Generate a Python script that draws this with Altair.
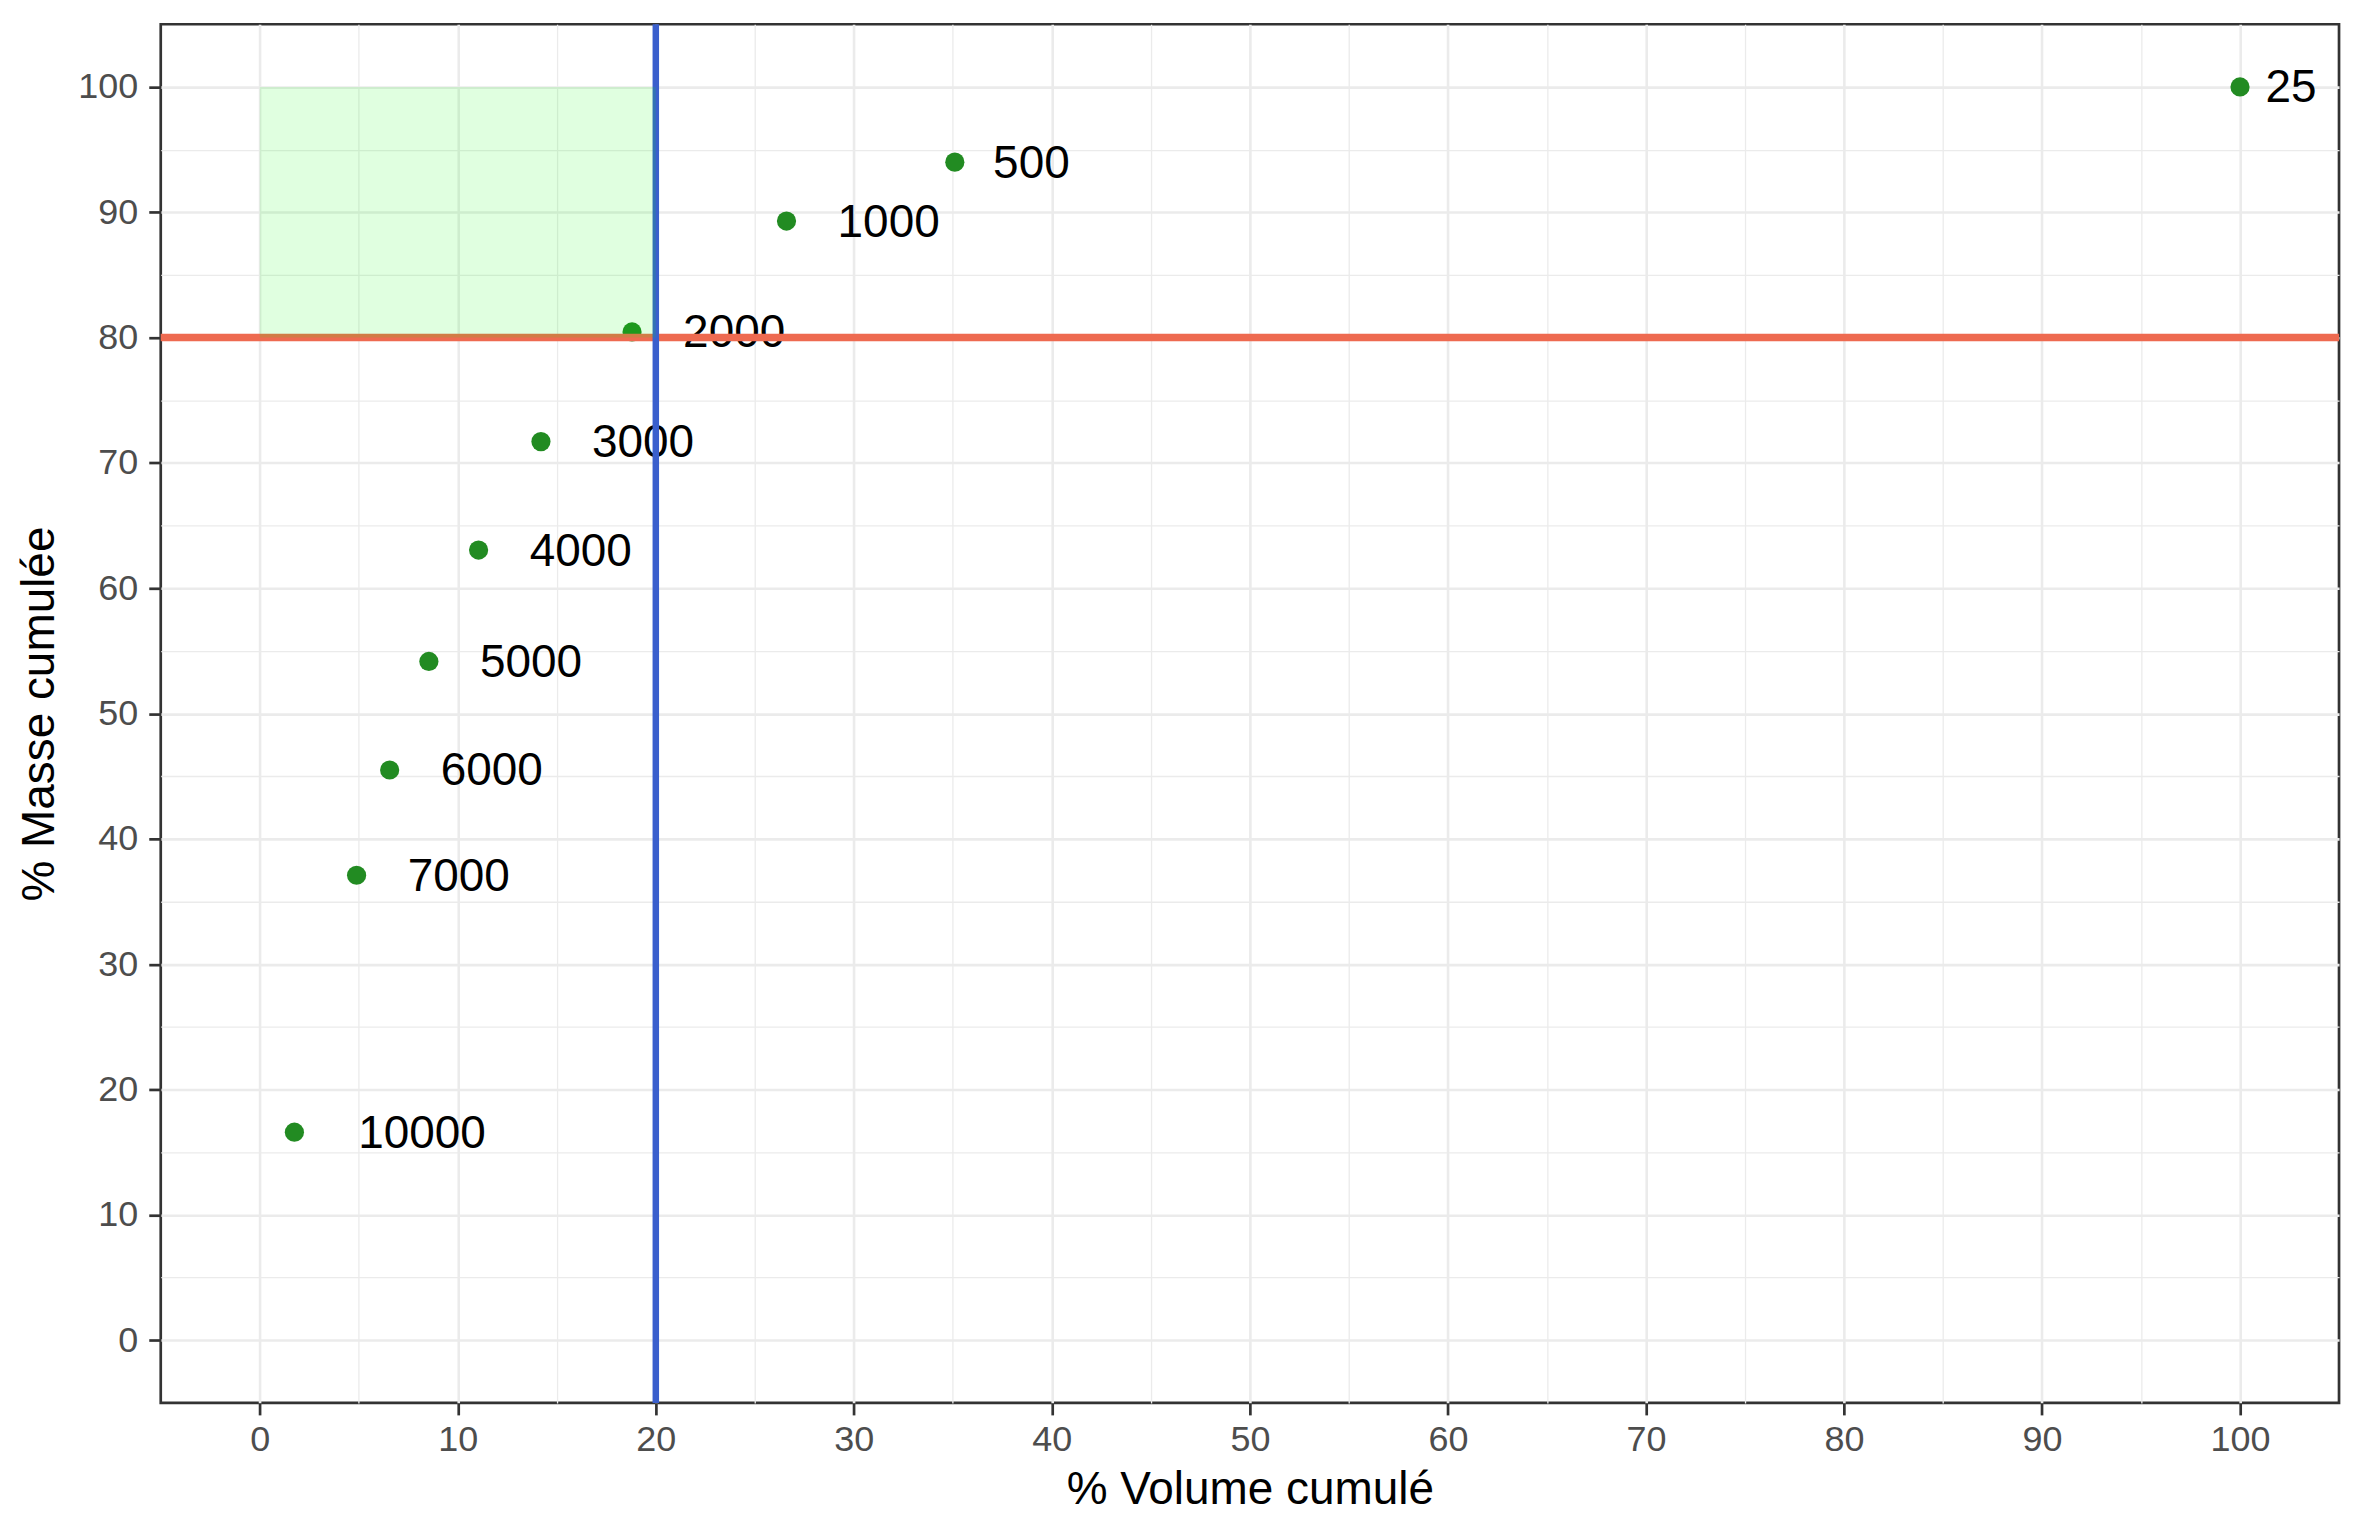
import altair as alt
import pandas as pd

# ---- data ----
labels = ["25", "500", "1000", "2000", "3000", "4000", "5000", "6000", "7000", "10000"]
volume_cumule = [100.0, 35.1, 26.6, 18.8, 14.2, 11.05, 8.54, 6.56, 4.89, 1.75]
masse_cumulee = [100.0, 94.0, 89.3, 80.45, 71.7, 63.05, 54.16, 45.5, 37.1, 16.6]

tick_values = list(range(0, 101, 5))
zone_x = [0, 20]
zone_y = [80, 100]
seuil_volume = [20]
seuil_masse = [80]

FONT = "Liberation Sans"
LABEL_SIZE = 46

df = pd.DataFrame({"label": labels, "vol": volume_cumule, "masse": masse_cumulee})
df["n"] = df["label"].str.len()

major = "datum.value % 10 === 0"
scale = alt.Scale(domain=[-5, 105], nice=False, zero=False)

x_axis = alt.Axis(
    values=tick_values,
    title="% Volume cumulé",
    grid=True,
    gridColor="#EBEBEB",
    gridWidth={"condition": {"test": major, "value": 2.6}, "value": 1.3},
    tickWidth={"condition": {"test": major, "value": 2.7}, "value": 0},
    tickSize=12,
    tickColor="#333333",
    labelExpr=f"{major} ? datum.label : ''",
    labelPadding=8,
    titleY=101,
    titleBaseline="alphabetic",
)
y_axis = alt.Axis(
    values=tick_values,
    title="% Masse cumulée",
    grid=True,
    gridColor="#EBEBEB",
    gridWidth={"condition": {"test": major, "value": 2.6}, "value": 1.3},
    tickWidth={"condition": {"test": major, "value": 2.7}, "value": 0},
    tickSize=12,
    tickColor="#333333",
    labelExpr=f"{major} ? datum.label : ''",
    labelPadding=11,
    titleX=-121,
    titleBaseline="middle",
    titleAngle=-90,
)


def X(field):
    return alt.X(field, type="quantitative", scale=scale, axis=x_axis)


def Y(field):
    return alt.Y(field, type="quantitative", scale=scale, axis=y_axis)


base = alt.Chart(df)

points = base.mark_circle(size=370, color="#228B22", opacity=1).encode(x=X("vol"), y=Y("masse"))

texts = []
for n in sorted(df["n"].unique()):
    texts.append(
        base.transform_filter(f"datum.n == {n}")
        .mark_text(
            align="left",
            baseline="middle",
            dx=0.5 * n * 0.556 * LABEL_SIZE,
            dy=1.5,
            fontSize=LABEL_SIZE,
            font=FONT,
            color="black",
        )
        .encode(x=X("vol"), y=Y("masse"), text="label:N")
    )

hline = (
    alt.Chart(pd.DataFrame({"m": seuil_masse}))
    .mark_rule(color="#EE6A50", strokeWidth=7.5)
    .encode(y=Y("m"))
)
vline = (
    alt.Chart(pd.DataFrame({"v": seuil_volume}))
    .mark_rule(color="#3A5FCD", strokeWidth=6.5)
    .encode(x=X("v"))
)
zone = (
    alt.Chart(pd.DataFrame({"x1": [zone_x[0]], "x2": [zone_x[1]], "y1": [zone_y[0]], "y2": [zone_y[1]]}))
    .mark_rect(color="#00FF00", opacity=0.12)
    .encode(x=X("x1"), x2="x2", y=Y("y1"), y2="y2")
)

chart = (
    alt.layer(points, *texts, hline, vline, zone)
    .properties(
        width=2182,
        height=1381,
        autosize=alt.AutoSizeParams(type="none"),
        padding={"left": 153, "top": 15, "right": 15, "bottom": 118},
    )
    .configure_view(stroke="#333333", strokeWidth=2.7)
    .configure_axis(
        domain=False,
        labelFont=FONT,
        labelFontSize=36,
        labelColor="#4D4D4D",
        titleFont=FONT,
        titleFontSize=46,
        titleFontWeight="normal",
        titleColor="black",
    )
)

chart.save("out.html", embed_options={"renderer": "svg", "actions": False})
